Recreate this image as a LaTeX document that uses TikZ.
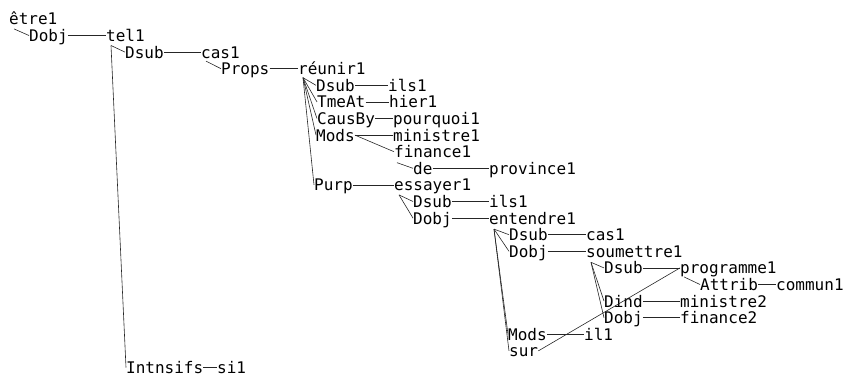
\documentclass[tikz,border=0pt]{standalone}
\usepackage{fontspec}
\usepackage{tikz}
\usetikzlibrary{calc}
\newfontfamily\treefont{DejaVu Sans Mono}

\tikzset{
  word/.style={anchor=base west, inner sep=0pt, text height=12pt, text depth=0pt,
    font=\treefont\fontsize{16}{18}\selectfont},
  link/.style={line width=0.6pt, draw=black!85}
}

\begin{document}
\begin{tikzpicture}[x=1pt,y=-16.6pt]
\useasboundingbox (0,-1.5) rectangle (846,21.15);

\node[word] (etre1) at (9,0) {être1};
\node[word] (dobj1) at (29,1) {Dobj};
\node[word] (tel1) at (106,1) {tel1};
\node[word] (dsub1) at (125,2) {Dsub};
\node[word] (cas1) at (201,2) {cas1};
\node[word] (props) at (221,3) {Props};
\node[word] (reunir1) at (298,3) {réunir1};
\node[word] (dsub2) at (316,4) {Dsub};
\node[word] (ils1) at (388,4) {ils1};
\node[word] (tmeat) at (317,5) {TmeAt};
\node[word] (hier1) at (389,5) {hier1};
\node[word] (causby) at (317,6) {CausBy};
\node[word] (pourquoi1) at (393,6) {pourquoi1};
\node[word] (mods1) at (316,7) {Mods};
\node[word] (ministre1) at (393,7) {ministre1};
\node[word] (finance1) at (394,8) {finance1};
\node[word] (de) at (413,9) {de};
\node[word] (province1) at (489,9) {province1};
\node[word] (purp) at (314,10) {Purp};
\node[word] (essayer1) at (394,10) {essayer1};
\node[word] (dsub3) at (413,11) {Dsub};
\node[word] (ils2) at (489,11) {ils1};
\node[word] (dobj2) at (413,12) {Dobj};
\node[word] (entendre1) at (489,12) {entendre1};
\node[word] (dsub4) at (509,13) {Dsub};
\node[word] (cas2) at (586,13) {cas1};
\node[word] (dobj3) at (509,14) {Dobj};
\node[word] (soumettre1) at (586,14) {soumettre1};
\node[word] (dsub5) at (604,15) {Dsub};
\node[word] (programme1) at (680,15) {programme1};
\node[word] (attrib) at (700,16) {Attrib};
\node[word] (commun1) at (776,16) {commun1};
\node[word] (dind) at (604,17) {Dind};
\node[word] (ministre2) at (680,17) {ministre2};
\node[word] (dobj4) at (604,18) {Dobj};
\node[word] (finance2) at (680,18) {finance2};
\node[word] (mods2) at (508,19) {Mods};
\node[word] (il1) at (584,19) {il1};
\node[word] (sur) at (509,20) {sur};
\node[word] (intnsifs) at (126,21) {Intnsifs};
\node[word] (si1) at (217,21) {si1};

\coordinate (etre1b) at ($(etre1.base west)+(5pt,-4pt)$);
\coordinate (tel1b) at ($(tel1.base west)+(5pt,-4pt)$);
\coordinate (cas1b) at ($(cas1.base west)+(5pt,-3pt)$);
\coordinate (reunir1b) at ($(reunir1.base west)+(5pt,-3pt)$);
\coordinate (finance1b) at ($(finance1.base west)+(3pt,-5pt)$);
\coordinate (essayer1b) at ($(essayer1.base west)+(5pt,-4pt)$);
\coordinate (entendre1b) at ($(entendre1.base west)+(5pt,-5pt)$);
\coordinate (soumettre1b) at ($(soumettre1.base west)+(5pt,-5pt)$);
\coordinate (programme1b) at ($(programme1.base west)+(4pt,-3pt)$);

\draw[link] (etre1b) -- (dobj1.west);
\draw[link] (dobj1.east) -- (tel1.west);
\draw[link] (tel1b) -- (dsub1.west);
\draw[link] (tel1b) -- (intnsifs.west);
\draw[link] (dsub1.east) -- (cas1.west);
\draw[link] (cas1b) -- (props.west);
\draw[link] (props.east) -- (reunir1.west);
\draw[link] (reunir1b) -- (dsub2.west);
\draw[link] (reunir1b) -- (tmeat.west);
\draw[link] (reunir1b) -- (causby.west);
\draw[link] (reunir1b) -- (mods1.west);
\draw[link] (reunir1b) -- (purp.west);
\draw[link] (dsub2.east) -- (ils1.west);
\draw[link] (tmeat.east) -- (hier1.west);
\draw[link] (causby.east) -- (pourquoi1.west);
\draw[link] (mods1.east) -- (ministre1.west);
\draw[link] (mods1.east) -- (finance1.west);
\draw[link] (finance1b) -- (de.west);
\draw[link] (de.east) -- (province1.west);
\draw[link] (purp.east) -- (essayer1.west);
\draw[link] (essayer1b) -- (dsub3.west);
\draw[link] (essayer1b) -- (dobj2.west);
\draw[link] (dsub3.east) -- (ils2.west);
\draw[link] (dobj2.east) -- (entendre1.west);
\draw[link] (entendre1b) -- (dsub4.west);
\draw[link] (entendre1b) -- (dobj3.west);
\draw[link] (entendre1b) -- (mods2.west);
\draw[link] (entendre1b) -- (sur.west);
\draw[link] (dsub4.east) -- (cas2.west);
\draw[link] (dobj3.east) -- (soumettre1.west);
\draw[link] (soumettre1b) -- (dsub5.west);
\draw[link] (soumettre1b) -- (dind.west);
\draw[link] (soumettre1b) -- (dobj4.west);
\draw[link] (dsub5.east) -- (programme1.west);
\draw[link] (programme1b) -- (attrib.west);
\draw[link] (attrib.east) -- (commun1.west);
\draw[link] (dind.east) -- (ministre2.west);
\draw[link] (dobj4.east) -- (finance2.west);
\draw[link] (mods2.east) -- (il1.west);
\draw[link] (sur.east) -- (programme1.west);
\draw[link] (intnsifs.east) -- (si1.west);

\end{tikzpicture}
\end{document}
